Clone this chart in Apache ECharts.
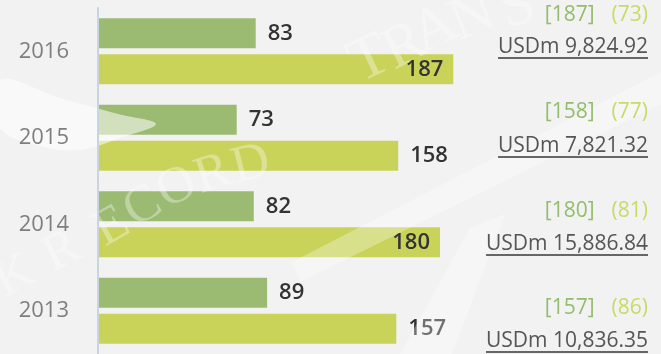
<!DOCTYPE html>
<html>
<head>
<meta charset="utf-8">
<script src="https://cdn.jsdelivr.net/npm/echarts@6/dist/echarts.min.js"></script>
<style>
  html, body { margin: 0; padding: 0; background: #f2f2f2; }
  #chart { width: 661px; height: 354px; }
</style>
</head>
<body>
<div id="chart"></div>
<script>
// Years, bottom to top on the category axis
const years = ['2013', '2014', '2015', '2016'];
// Dark green bars
const dealsA = [89, 82, 73, 83];
// Yellow-green bars
const dealsB = [157, 180, 158, 187];
// Side notes per year
const bracketNotes = ['[157]', '[180]', '[158]', '[187]'];
const parenNotes = ['(86)', '(81)', '(77)', '(73)'];
const amountNotes = ['USDm 10,836.35', 'USDm 15,886.84', 'USDm 7,821.32', 'USDm 9,824.92'];
// Yellow-bar labels drawn inside the bar end
const insideLabelYears = ['2014', '2016'];

const GREEN = '#9bbb72';
const YELLOW = '#c9d35a';
const FONT = '"Open Sans", "Noto Sans", sans-serif';
const SERIF = '"Liberation Serif", "DejaVu Serif", serif';

const chart = echarts.init(document.getElementById('chart'), null, { renderer: 'canvas' });

const valueLabel = {
  show: true,
  position: 'right',
  distance: 12,
  color: '#333333',
  fontFamily: FONT,
  fontSize: 22,
  fontWeight: 600
};

const yellowData = dealsB.map((v, i) => {
  const inside = insideLabelYears.includes(years[i]);
  return {
    value: v,
    label: inside ? { position: 'insideRight', distance: 10 } : {}
  };
});

// Side notes: coloured counts plus an underlined amount per year
const noteRows = [
  { bracketY: 308, amountY: 341 },
  { bracketY: 211, amountY: 244 },
  { bracketY: 112, amountY: 146 },
  { bracketY: 15, amountY: 47 }
];

const measureCtx = document.createElement('canvas').getContext('2d');
function textWidth(str, font) {
  measureCtx.font = font;
  return measureCtx.measureText(str).width;
}

const RIGHT_EDGE = 648;
const NOTE_FONT = '21px ' + FONT;
const graphics = [];

// Faint white watermark: brush swoosh, arc lettering and a large "T"
graphics.push({
  type: 'polygon', z: 100, silent: true,
  shape: {
    points: [[0, 80], [60, 98], [118, 114], [156, 124], [120, 138], [80, 150], [40, 146], [0, 128]],
    smooth: 0.35
  },
  style: { fill: 'rgba(255,255,255,0.55)' }
});
graphics.push({
  type: 'polygon', z: 100, silent: true,
  shape: { points: [[292, 262], [661, 72], [661, 104], [300, 282]] },
  style: { fill: 'rgba(255,255,255,0.3)' }
});
graphics.push({
  type: 'polygon', z: 100, silent: true,
  shape: { points: [[400, 354], [470, 228], [505, 214], [452, 354]] },
  style: { fill: 'rgba(255,255,255,0.3)' }
});
const arcLetters = [
  ['K', 15, 277, 28, 52], ['R', 62, 252, 27, 52], ['E', 112, 227, 30, 52], ['C', 143, 207, 30, 52],
  ['O', 177, 188, 25, 52], ['R', 213, 175, 18, 52], ['D', 251, 165, 14, 52],
  ['T', 370, 60, 25, 62], ['R', 405, 47, 27, 60], ['A', 435, 30, 25, 60], ['N', 473, 18, 22, 60], ['S', 518, 8, 18, 60]
];
arcLetters.forEach(([ch, x, y, deg, size]) => {
  graphics.push({
    type: 'text', z: 100, silent: true, x: x, y: y, rotation: deg * Math.PI / 180,
    style: { text: ch, fill: 'rgba(255,255,255,0.35)', font: size + 'px ' + SERIF, align: 'center', verticalAlign: 'middle' }
  });
});

years.forEach((y, i) => {
  const row = noteRows[i];
  const parenW = textWidth(parenNotes[i], NOTE_FONT);
  graphics.push({
    type: 'text', z: 110, x: RIGHT_EDGE, y: row.bracketY,
    style: { text: parenNotes[i], fill: '#c9da66', font: NOTE_FONT, align: 'right', verticalAlign: 'middle' }
  });
  graphics.push({
    type: 'text', z: 110, x: RIGHT_EDGE - parenW - 17, y: row.bracketY,
    style: { text: bracketNotes[i], fill: '#93bd6c', font: NOTE_FONT, align: 'right', verticalAlign: 'middle' }
  });
  const amtW = textWidth(amountNotes[i], NOTE_FONT);
  graphics.push({
    type: 'text', z: 110, x: RIGHT_EDGE, y: row.amountY,
    style: { text: amountNotes[i], fill: '#555555', font: NOTE_FONT, align: 'right', verticalAlign: 'middle' }
  });
  graphics.push({
    type: 'line', z: 110,
    shape: { x1: RIGHT_EDGE - amtW, y1: row.amountY + 11, x2: RIGHT_EDGE, y2: row.amountY + 11 },
    style: { stroke: '#666666', lineWidth: 2 }
  });
});

chart.setOption({
  backgroundColor: '#f2f2f2',
  animation: false,
  grid: { left: 98, top: 8, bottom: 0, width: 475, containLabel: false, outerBoundsMode: 'none' },
  xAxis: {
    type: 'value',
    min: 0,
    max: 250,
    show: false,
    splitLine: { show: false }
  },
  yAxis: {
    type: 'category',
    data: years,
    z: 120,
    axisLine: { show: true, lineStyle: { color: '#c8d4e0', width: 2 } },
    axisTick: { show: false },
    splitLine: { show: false },
    axisLabel: {
      color: '#7f7f7f',
      fontFamily: FONT,
      fontSize: 22,
      margin: 29,
      padding: [18, 0, 0, 0]
    }
  },
  series: [
    {
      name: 'A',
      type: 'bar',
      data: dealsA,
      barWidth: 30,
      barGap: '20%',
      itemStyle: { color: GREEN },
      label: valueLabel
    },
    {
      name: 'B',
      type: 'bar',
      data: yellowData,
      barWidth: 30,
      barGap: '20%',
      itemStyle: { color: YELLOW },
      label: valueLabel
    }
  ],
  graphic: graphics
});
</script>
</body>
</html>
